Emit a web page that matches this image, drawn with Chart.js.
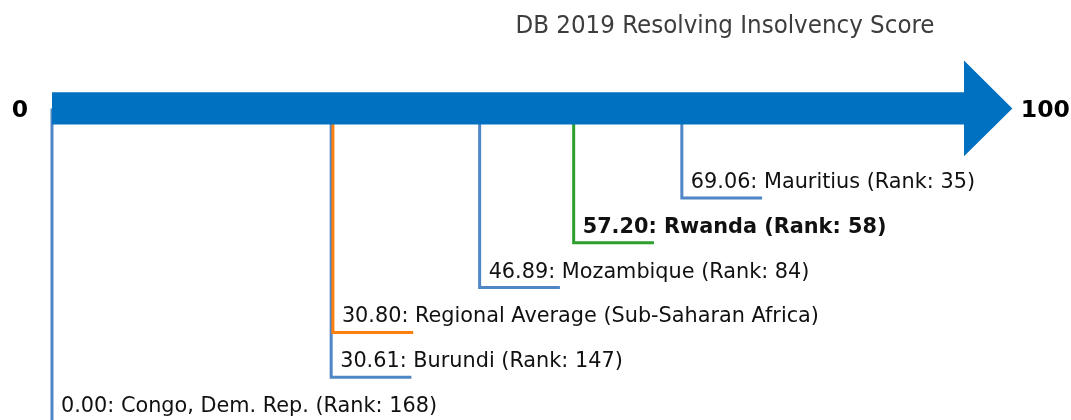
<!DOCTYPE html>
<html>
<head>
<meta charset="utf-8">
<script src="https://cdn.jsdelivr.net/npm/chart.js@4.4.1/dist/chart.umd.min.js"></script>
<style>
html,body{margin:0;padding:0;background:#fff;}
#wrap{width:1071px;height:420px;position:relative;}
</style>
</head>
<body>
<div id="wrap"><canvas id="c" width="1071" height="420"></canvas></div>
<script>
// ---- data ----
const chartTitle = 'DB 2019 Resolving Insolvency Score';
const economies = ['Mauritius', 'Rwanda', 'Mozambique', 'Regional Average (Sub-Saharan Africa)', 'Burundi', 'Congo, Dem. Rep.'];
const scores = [69.06, 57.20, 46.89, 30.80, 30.61, 0.00];
const ranks = [35, 58, 84, null, 147, 168];
const lineColors = ['#4f86c6', '#2ca02c', '#4f86c6', '#ff7f0e', '#4f86c6', '#4f86c6'];
const highlighted = 'Rwanda';
const scaleMin = 0, scaleMax = 100;
const endLabels = ['0', '100'];

// ---- style constants ----
const ARROW_ROW = -2;       // row where the arrow sits
const BODY_HALF = 0.36;     // half-height of arrow body in rows
const HEAD_HALF = 1.07;     // half-height of arrow head in rows
const HEAD_LEN = 5.3;       // arrow head length in score units
const TICK_LEN = 8.8;       // horizontal leader length in score units

const labels = economies.map((e, i) =>
  scores[i].toFixed(2) + ': ' + e + (ranks[i] !== null ? ' (Rank: ' + ranks[i] + ')' : ''));

const datasets = scores.map((v, i) => ({
  label: economies[i],
  data: [{x: v, y: ARROW_ROW}, {x: v, y: i}, {x: v + TICK_LEN, y: i}],
  showLine: true,
  borderColor: lineColors[i],
  backgroundColor: lineColors[i],
  borderWidth: 3,
  pointRadius: 0,
  borderJoinStyle: 'miter',
  tension: 0
}));

const arrowPlugin = {
  id: 'arrow',
  afterDatasetsDraw(chart) {
    const ctx = chart.ctx, xs = chart.scales.x, ys = chart.scales.y;
    const x0 = xs.getPixelForValue(scaleMin), x1 = xs.getPixelForValue(scaleMax);
    const xt = xs.getPixelForValue(scaleMax + HEAD_LEN);
    const yc = ys.getPixelForValue(ARROW_ROW);
    const bt = ys.getPixelForValue(ARROW_ROW - BODY_HALF), bb = ys.getPixelForValue(ARROW_ROW + BODY_HALF);
    const ht = ys.getPixelForValue(ARROW_ROW - HEAD_HALF), hb = ys.getPixelForValue(ARROW_ROW + HEAD_HALF);
    ctx.save();
    ctx.fillStyle = '#0070c0';
    ctx.beginPath();
    ctx.moveTo(x0, bt); ctx.lineTo(x1, bt); ctx.lineTo(x1, ht); ctx.lineTo(xt, yc);
    ctx.lineTo(x1, hb); ctx.lineTo(x1, bb); ctx.lineTo(x0, bb); ctx.closePath();
    ctx.fill();
    // end labels
    ctx.fillStyle = '#000';
    ctx.font = 'bold 23.5px "DejaVu Sans"';
    ctx.textBaseline = 'alphabetic';
    ctx.textAlign = 'center';
    ctx.fillText(endLabels[0], x0 - 32, yc + 9);
    ctx.fillText(endLabels[1], xt + 33, yc + 9);
    // title
    ctx.fillStyle = '#3d3d3d';
    ctx.font = '25.6px "DejaVu Sans Condensed"';
    ctx.fillText(chartTitle, 725, 33);
    // point labels
    ctx.textAlign = 'left';
    scores.forEach((v, i) => {
      const px = xs.getPixelForValue(v) + 9;
      const py = ys.getPixelForValue(i) - 10;
      ctx.font = (economies[i] === highlighted ? 'bold ' : '') + '20.8px "DejaVu Sans"';
      ctx.fillStyle = '#111';
      ctx.fillText(labels[i], px, py);
    });
    ctx.restore();
  }
};

new Chart(document.getElementById('c'), {
  type: 'scatter',
  data: {datasets},
  options: {
    responsive: false,
    animation: false,
    layout: {padding: 0},
    plugins: {legend: {display: false}, tooltip: {enabled: false}, title: {display: false}},
    scales: {
      x: {type: 'linear', display: false, min: -5.70, max: 111.73},
      y: {type: 'linear', display: false, reverse: true, min: -4.42, max: 4.955}
    }
  },
  plugins: [arrowPlugin]
});
</script>
</body>
</html>
